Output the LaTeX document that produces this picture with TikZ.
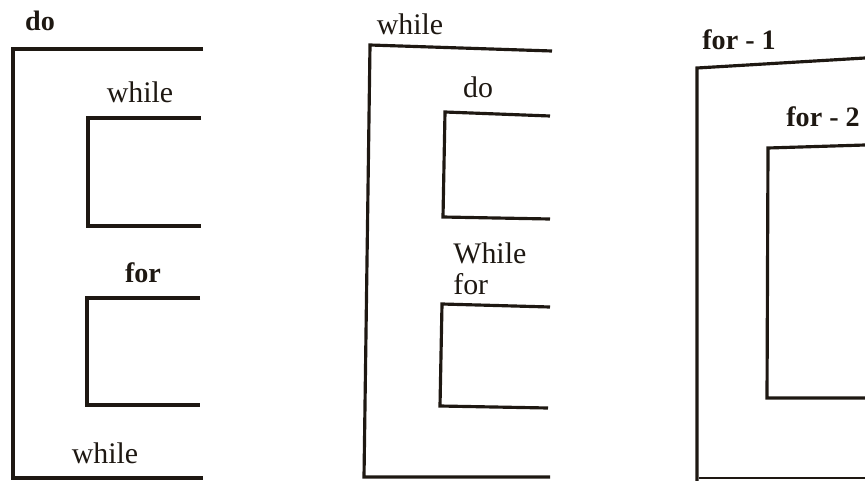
\documentclass[tikz,border=0pt]{standalone}
\usepackage{fontspec}
\setmainfont{Liberation Serif}
\usepackage{xcolor}
\definecolor{inkblack}{HTML}{1E1812}

\begin{document}
\begin{tikzpicture}[x=0.02cm,y=-0.02cm]
  \tikzset{
    loopline/.style={inkblack,line width=1.8pt,line join=miter},
    kw/.style={font=\fontsize{17}{19}\selectfont,text=inkblack,inner sep=0pt},
    kwbold/.style={kw,font=\bfseries\fontsize{16}{18}\selectfont},
  }
  \useasboundingbox (0,0) rectangle (865,480);

  % (a) do ... while, holding a while loop and a for loop.
  \draw[loopline] (203,49) -- (13,49) -- (13,478) -- (203,478);
  \node[kwbold,anchor=center] (doA) at (40,21) {do};
  \draw[loopline] (201,118) -- (88,118) -- (88,226) -- (201,226);
  \node[kw] (whileA) at (140,92) {while};
  \draw[loopline] (200,298) -- (87,298) -- (87,405) -- (200,405);
  \node[kwbold] (forA) at (143,273) {for};
  \node[kw] (whileEndA) at (105,453) {while};

  % (b) while, holding a do loop and a for loop.
  \draw[loopline] (552,51) -- (370,45) -- (364,477) -- (550,477);
  \node[kw] (whileB) at (410,24) {while};
  \draw[loopline] (550,116) -- (445,112) -- (443,217) -- (550,219);
  \node[kw] (doB) at (478,87) {do};
  \draw[loopline] (550,307) -- (442,304) -- (440,406) -- (548,408);
  \node[kw,anchor=west] (whileEndB) at (453,253) {While};
  \node[kw,anchor=west] (forB) at (453,284) {for};

  % (c) for loop nested in a for loop.
  \draw[loopline] (865,58) -- (697,68) -- (697,482);
  \draw[inkblack,line width=0.8pt] (699,478) -- (865,478);
  \node[kwbold,anchor=west] (forOne) at (702,40) {for - 1};
  \draw[loopline] (865,145) -- (768,148) -- (767,398) -- (865,398);
  \node[kwbold,anchor=west] (forTwo) at (786,117) {for - 2};
\end{tikzpicture}
\end{document}
